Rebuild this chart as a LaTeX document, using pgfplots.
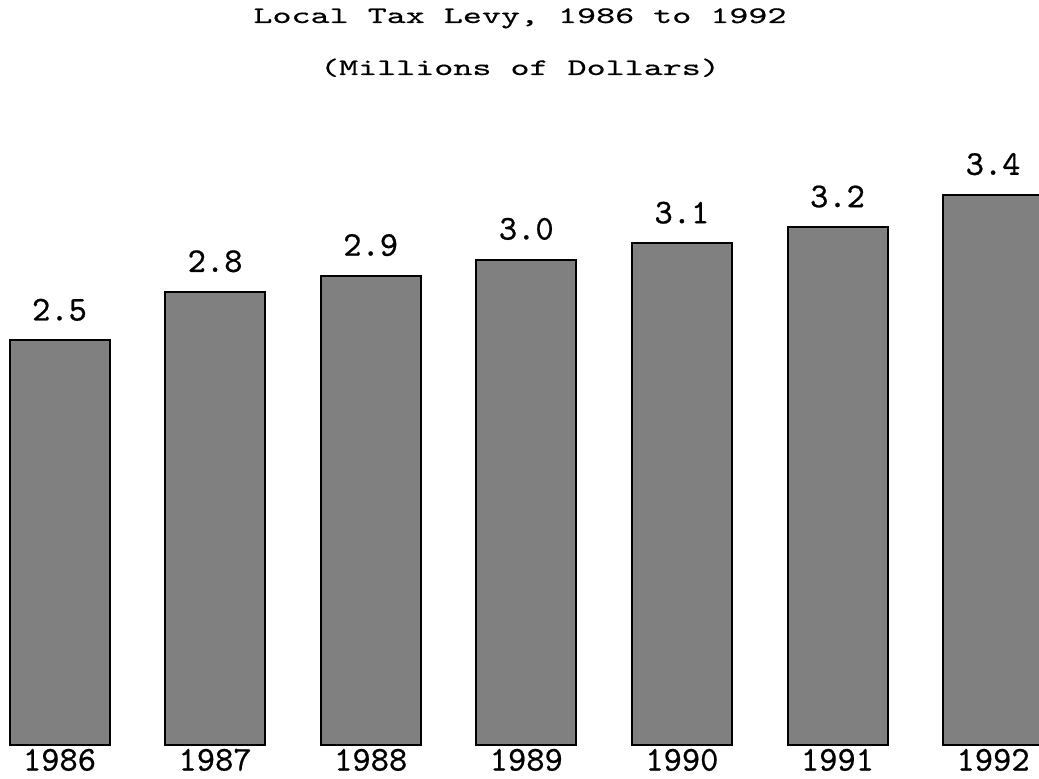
\documentclass[border=0pt]{standalone}
\usepackage{pgfplots}
\pgfplotsset{compat=1.18}
\usepackage{fontspec}
\newfontfamily\cm[FakeBold=0.6]{lmmono10-regular.otf}
\newfontfamily\cmtitle[FakeStretch=1.53,FakeBold=0.5]{lmmono10-regular.otf}
\begin{document}
\begin{tikzpicture}[font=\cm\fontsize{17.4pt}{20pt}\selectfont]
\path[use as bounding box] (0,0) rectangle (519.5pt,389pt);
\begin{axis}[
  at={(0,0)}, anchor=south west,
  scale only axis, width=519.5pt, height=389pt,
  xmin=-0.3824, xmax=6.295, ymin=-0.204, ymax=4.604,
  axis line style={draw=none}, tick style={draw=none},
  ybar, bar width=50pt,
  xtick=data, xticklabels={\mbox{1986},\mbox{1987},\mbox{1988},\mbox{1989},\mbox{1990},\mbox{1991},\mbox{1992}},
  ytick=\empty,
  xticklabel style={anchor=base, yshift=8pt},
  /pgf/number format/assume math mode=true,
  nodes near coords={\pgfmathprintnumber[fixed,zerofill,precision=1]{\pgfplotspointmeta}},
  every node near coord/.append style={anchor=base, yshift=10pt, inner sep=0pt},
]
\addplot[fill=black!50, draw=black, line width=1pt] coordinates {(0,2.5) (1,2.8) (2,2.9) (3,3.0) (4,3.1) (5,3.2) (6,3.4)};
\end{axis}
\node[anchor=base, font=\cmtitle\fontsize{11.85pt}{14pt}\selectfont] at (260pt,377.5pt) {Local Tax Levy, 1986 to 1992};
\node[anchor=base, font=\cmtitle\fontsize{11.85pt}{14pt}\selectfont] at (260pt,351.5pt) {(Millions of Dollars)};
\end{tikzpicture}
\end{document}
